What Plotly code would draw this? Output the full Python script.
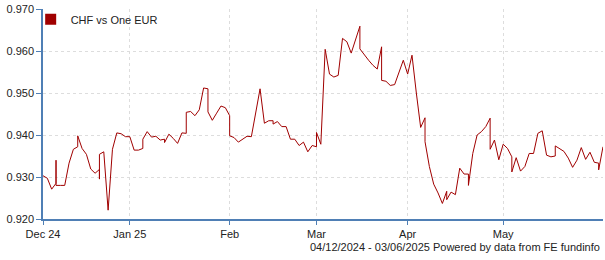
import pandas as pd
import plotly.graph_objects as go

# ---- data ----
start_date = "2024-12-04"
end_date = "2025-06-03"

# one value per business day, 04/12/2024 .. 03/06/2025
chf = [
    0.9303, 0.9297, 0.9271, 0.9280, 0.9280, 0.9280, 0.9333, 0.9366, 0.9398, 0.9368,
    0.9354, 0.9319, 0.9309, 0.9354, 0.9360, 0.9221, 0.9366, 0.9405, 0.9403, 0.9396,
    0.9396, 0.9364, 0.9364, 0.9390, 0.9408, 0.9395, 0.9397, 0.9388, 0.9382, 0.9402,
    0.9392, 0.9380, 0.9405, 0.9454, 0.9456, 0.9446, 0.9460, 0.9512, 0.9455, 0.9435,
    0.9452, 0.9469, 0.9465, 0.9398, 0.9394, 0.9383, 0.9391, 0.9397, 0.9396, 0.9453,
    0.9510, 0.9428, 0.9434, 0.9426, 0.9432, 0.9420, 0.9420, 0.9390, 0.9390, 0.9375,
    0.9383, 0.9360, 0.9375, 0.9406, 0.9378, 0.9604, 0.9545, 0.9538, 0.9542, 0.9630,
    0.9622, 0.9595, 0.9627, 0.9605, 0.9590, 0.9578, 0.9566, 0.9557, 0.9530, 0.9528,
    0.9518, 0.9520, 0.9547, 0.9578, 0.9545, 0.9590, 0.9500, 0.9418, 0.9384, 0.9325,
    0.9283, 0.9262, 0.9237, 0.9246, 0.9264, 0.9258, 0.9321, 0.9307, 0.9280, 0.9356,
    0.9400, 0.9408, 0.9420, 0.9366, 0.9388, 0.9341, 0.9378, 0.9368, 0.9312, 0.9346,
    0.9314, 0.9325, 0.9356, 0.9356, 0.9404, 0.9410, 0.9352, 0.9348, 0.9374, 0.9368,
    0.9361, 0.9345, 0.9323, 0.9340, 0.9370, 0.9342, 0.9359, 0.9335, 0.9317, 0.9372,
]

# weekend prices, drawn at the following Monday's position (business-day index)
weekend = {
    3: [0.9285, 0.9340], 8: [0.9372], 13: [0.9318, 0.9295], 23: [0.9368],
    28: [0.9390], 33: [0.9404], 38: [0.9510], 43: [0.9446], 53: [0.9434],
    63: [0.9372], 73: [0.9659], 78: [0.9610], 88: [0.9441], 93: [0.9266],
    98: [0.9307], 103: [0.9440], 108: [0.9348], 118: [0.9350], 128: [0.9333],
}

month_starts = ["2024-12-04", "2025-01-01", "2025-02-01", "2025-03-01", "2025-04-01", "2025-05-01"]
month_labels = ["Dec 24", "Jan 25", "Feb", "Mar", "Apr", "May"]
y_ticks = [0.920, 0.930, 0.940, 0.950, 0.960, 0.970]

series_name = "CHF vs One EUR"
footer = "04/12/2024 - 03/06/2025 Powered by data from FE fundinfo"

# ---- build ----
bdays = pd.bdate_range(start_date, end_date)
tick_pos = [int((bdays < pd.Timestamp(m)).sum()) for m in month_starts]

xs, ys = [], []
for i, v in enumerate(chf):
    for w in weekend.get(i, []):
        xs.append(i)
        ys.append(w)
    xs.append(i)
    ys.append(v)

LINE = "#a00000"
AXIS = "#4f7fb5"
FONT = "Liberation Sans, Arial, sans-serif"

fig = go.Figure()
fig.add_trace(go.Scatter(x=xs, y=ys, mode="lines", line=dict(color=LINE, width=1),
                         showlegend=False, hoverinfo="skip"))
fig.add_trace(go.Scatter(x=[None], y=[None], mode="markers", name=series_name,
                         marker=dict(symbol="square", size=11, color=LINE)))

fig.update_layout(
    width=605, height=260,
    margin=dict(l=43, r=2, t=9, b=41),
    paper_bgcolor="white", plot_bgcolor="white",
    font=dict(family=FONT, size=11, color="#222222"),
    legend=dict(x=-0.022, y=1.02, xanchor="left", yanchor="top", bgcolor="rgba(0,0,0,0)",
                font=dict(size=11, color="#222222"), itemwidth=30,
                tracegroupgap=0, borderwidth=0),
    xaxis=dict(
        range=[0, len(bdays) - 1], tickmode="array", tickvals=tick_pos, ticktext=month_labels,
        showgrid=True, gridcolor="#dddddd", griddash="dot", gridwidth=1,
        showline=True, linecolor=AXIS, linewidth=1.5,
        ticks="outside", ticklen=4, tickcolor=AXIS, zeroline=False,
    ),
    yaxis=dict(
        range=[0.920, 0.970], tickmode="array", tickvals=y_ticks,
        ticktext=[f"{t:.3f}" for t in y_ticks],
        showgrid=True, gridcolor="#dddddd", griddash="dot", gridwidth=1,
        showline=True, linecolor=AXIS, linewidth=1.5,
        ticks="outside", ticklen=5, tickcolor=AXIS, zeroline=False,
    ),
    annotations=[dict(text=footer, xref="paper", yref="paper", x=0.998, y=-0.135,
                      xanchor="right", yanchor="middle", showarrow=False,
                      font=dict(size=11, color="#222222"))],
)

fig.write_html("out.html")
